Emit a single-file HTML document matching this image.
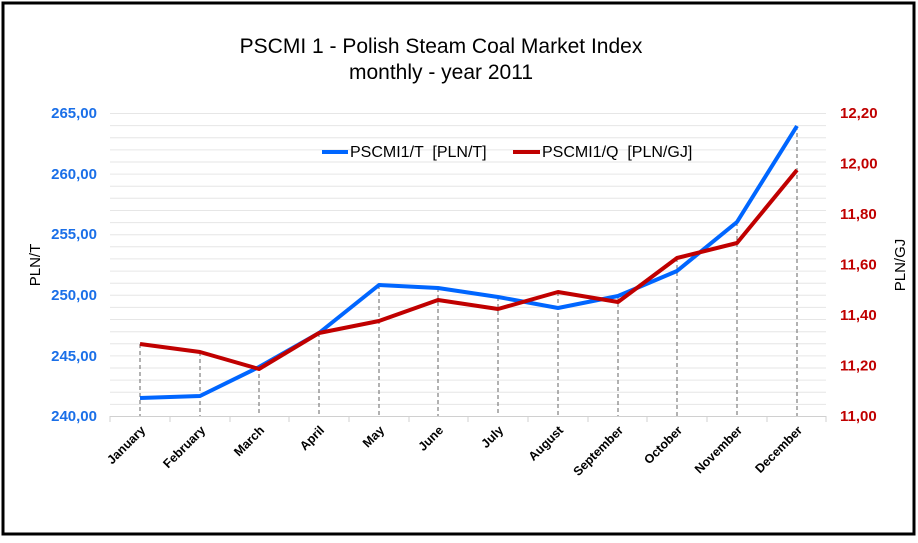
<!DOCTYPE html>
<html><head><style>body{margin:0;background:#fff} text{white-space:pre}</style></head><body>
<svg width="918" height="538" xmlns="http://www.w3.org/2000/svg" font-family="Liberation Sans, Arial, sans-serif">
<rect x="3" y="3" width="911" height="531" fill="#fff" stroke="#000" stroke-width="3"/>
<text x="441" y="53" text-anchor="middle" font-size="21">PSCMI 1 - Polish Steam Coal Market Index</text>
<text x="441" y="79" text-anchor="middle" font-size="21">monthly - year 2011</text>
<g stroke="#e6e6e6" stroke-width="1">
<line x1="110" x2="826" y1="113.5" y2="113.5"/><line x1="110" x2="826" y1="125.6" y2="125.6"/><line x1="110" x2="826" y1="137.7" y2="137.7"/><line x1="110" x2="826" y1="149.9" y2="149.9"/><line x1="110" x2="826" y1="162" y2="162"/><line x1="110" x2="826" y1="174.1" y2="174.1"/><line x1="110" x2="826" y1="186.2" y2="186.2"/><line x1="110" x2="826" y1="198.3" y2="198.3"/><line x1="110" x2="826" y1="210.5" y2="210.5"/><line x1="110" x2="826" y1="222.6" y2="222.6"/><line x1="110" x2="826" y1="234.7" y2="234.7"/><line x1="110" x2="826" y1="246.8" y2="246.8"/><line x1="110" x2="826" y1="258.9" y2="258.9"/><line x1="110" x2="826" y1="271.1" y2="271.1"/><line x1="110" x2="826" y1="283.2" y2="283.2"/><line x1="110" x2="826" y1="295.3" y2="295.3"/><line x1="110" x2="826" y1="307.4" y2="307.4"/><line x1="110" x2="826" y1="319.5" y2="319.5"/><line x1="110" x2="826" y1="331.7" y2="331.7"/><line x1="110" x2="826" y1="343.8" y2="343.8"/><line x1="110" x2="826" y1="355.9" y2="355.9"/><line x1="110" x2="826" y1="368" y2="368"/><line x1="110" x2="826" y1="380.1" y2="380.1"/><line x1="110" x2="826" y1="392.3" y2="392.3"/><line x1="110" x2="826" y1="404.4" y2="404.4"/>
</g>
<g stroke="#d0d0d0"><line x1="110" x2="826" y1="416.5" y2="416.5"/>
<line x1="110" x2="110" y1="416" y2="422"/><line x1="170" x2="170" y1="416" y2="422"/><line x1="230" x2="230" y1="416" y2="422"/><line x1="289" x2="289" y1="416" y2="422"/><line x1="349" x2="349" y1="416" y2="422"/><line x1="409" x2="409" y1="416" y2="422"/><line x1="468" x2="468" y1="416" y2="422"/><line x1="528" x2="528" y1="416" y2="422"/><line x1="588" x2="588" y1="416" y2="422"/><line x1="647" x2="647" y1="416" y2="422"/><line x1="707" x2="707" y1="416" y2="422"/><line x1="767" x2="767" y1="416" y2="422"/><line x1="826" x2="826" y1="416" y2="422"/></g>
<g stroke="#666" stroke-dasharray="4,3" stroke-width="1">
<line x1="140" x2="140" y1="344" y2="416"/><line x1="200" x2="200" y1="352" y2="416"/><line x1="259" x2="259" y1="367" y2="416"/><line x1="319" x2="319" y1="333" y2="416"/><line x1="379" x2="379" y1="285" y2="416"/><line x1="438" x2="438" y1="288" y2="416"/><line x1="498" x2="498" y1="297" y2="416"/><line x1="558" x2="558" y1="292" y2="416"/><line x1="618" x2="618" y1="296" y2="416"/><line x1="677" x2="677" y1="258" y2="416"/><line x1="737" x2="737" y1="222" y2="416"/><line x1="797" x2="797" y1="126" y2="416"/>
</g>
<polyline fill="none" stroke="#0066ff" stroke-width="4" stroke-linejoin="round" points="140,398 200,396 259,367 319,333 379,285 438,288 498,297 558,308 618,296 677,271 737,222 797,126"/>
<polyline fill="none" stroke="#c00000" stroke-width="4" stroke-linejoin="round" points="140,344 200,352 259,369 319,333 379,321 438,300 498,309 558,292 618,302 677,258 737,243 797,170"/>
<g font-size="15" font-weight="bold" fill="#1a6fe8" text-anchor="end">
<text x="97" y="118">265,00</text><text x="97" y="179">260,00</text><text x="97" y="239">255,00</text><text x="97" y="300">250,00</text><text x="97" y="361">245,00</text><text x="97" y="421">240,00</text></g>
<g font-size="15" font-weight="bold" fill="#c00000">
<text x="840" y="118">12,20</text><text x="840" y="168.5">12,00</text><text x="840" y="219">11,80</text><text x="840" y="269.5">11,60</text><text x="840" y="320">11,40</text><text x="840" y="370.5">11,20</text><text x="840" y="421">11,00</text></g>
<text transform="translate(40,265) rotate(-90)" text-anchor="middle" font-size="15">PLN/T</text>
<text transform="translate(905,265) rotate(-90)" text-anchor="middle" font-size="15">PLN/GJ</text>
<g font-size="12.5" font-weight="bold" text-anchor="end">
<text transform="translate(146,431) rotate(-45)">January</text><text transform="translate(206,431) rotate(-45)">February</text><text transform="translate(265,431) rotate(-45)">March</text><text transform="translate(325,431) rotate(-45)">April</text><text transform="translate(385,431) rotate(-45)">May</text><text transform="translate(444,431) rotate(-45)">June</text><text transform="translate(504,431) rotate(-45)">July</text><text transform="translate(564,431) rotate(-45)">August</text><text transform="translate(624,431) rotate(-45)">September</text><text transform="translate(683,431) rotate(-45)">October</text><text transform="translate(743,431) rotate(-45)">November</text><text transform="translate(803,431) rotate(-45)">December</text></g>
<line x1="322" x2="348" y1="152" y2="152" stroke="#0066ff" stroke-width="4"/>
<text x="350" y="157" font-size="16">PSCMI1/T  [PLN/T]</text>
<line x1="513" x2="540" y1="152" y2="152" stroke="#c00000" stroke-width="4"/>
<text x="542" y="157" font-size="16">PSCMI1/Q  [PLN/GJ]</text>
</svg>
</body></html>
